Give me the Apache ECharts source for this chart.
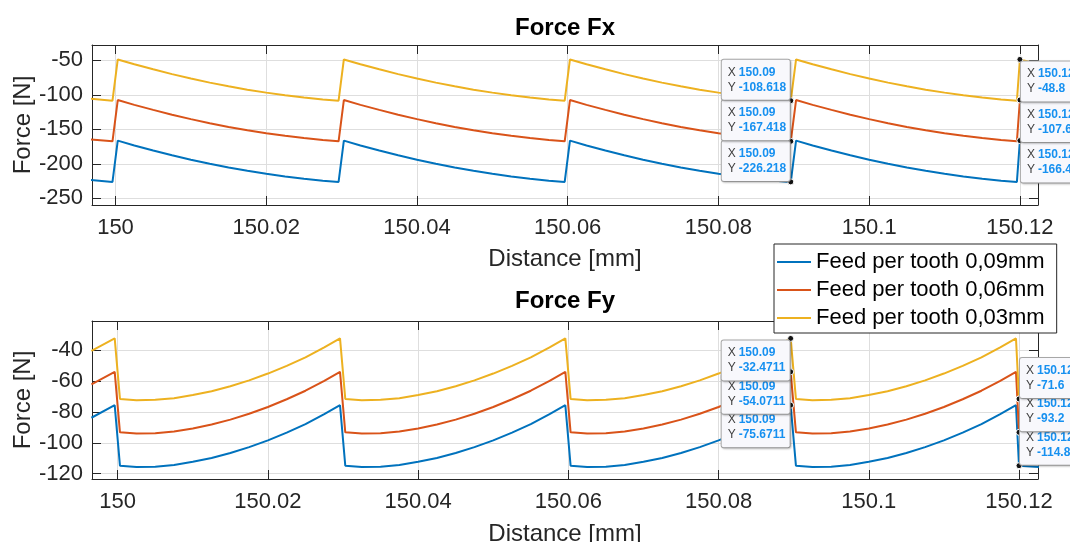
<!DOCTYPE html>
<html>
<head>
<meta charset="utf-8">
<title>Force Fx / Force Fy</title>
<script src="https://cdn.jsdelivr.net/npm/echarts@6/dist/echarts.min.js"></script>
<style>
  html, body { margin: 0; padding: 0; background: #ffffff; }
  #chart { width: 1070px; height: 542px; }
</style>
</head>
<body>
<div id="chart"></div>
<script>
// Distance samples [mm], shared by the Fx and Fy traces
const distance = [
  149.9965,
  149.9996, 150.0003, 150.0025, 150.0050, 150.0075, 150.0100, 150.0125, 150.0150, 150.0175, 150.0200, 150.0225, 150.0250, 150.0275,
  150.0296, 150.0303, 150.0325, 150.0350, 150.0375, 150.0400, 150.0425, 150.0450, 150.0475, 150.0500, 150.0525, 150.0550, 150.0575,
  150.0596, 150.0603, 150.0625, 150.0650, 150.0675, 150.0700, 150.0725, 150.0750, 150.0775, 150.0800, 150.0825, 150.0850, 150.0875,
  150.0896, 150.0903, 150.0925, 150.0950, 150.0975, 150.1000, 150.1025, 150.1050, 150.1075, 150.1100, 150.1125, 150.1150, 150.1175,
  150.1196, 150.1200, 150.1227
];

// Force Fx [N]
const fx009 = [
  -223.2,
  -226.218, -166.4, -173.4, -180.7, -187.7, -194.1, -200.0, -205.4, -210.2, -214.5, -218.3, -221.6, -224.5,
  -226.218, -166.4, -173.4, -180.7, -187.7, -194.1, -200.0, -205.4, -210.2, -214.5, -218.3, -221.6, -224.5,
  -226.218, -166.4, -173.4, -180.7, -187.7, -194.1, -200.0, -205.4, -210.2, -214.5, -218.3, -221.6, -224.5,
  -226.218, -166.4, -173.4, -180.7, -187.7, -194.1, -200.0, -205.4, -210.2, -214.5, -218.3, -221.6, -224.5,
  -226.218, -166.4, -174.0
];
const fx006 = [
  -164.4,
  -167.418, -107.6, -114.6, -121.9, -128.9, -135.3, -141.2, -146.6, -151.4, -155.7, -159.5, -162.8, -165.7,
  -167.418, -107.6, -114.6, -121.9, -128.9, -135.3, -141.2, -146.6, -151.4, -155.7, -159.5, -162.8, -165.7,
  -167.418, -107.6, -114.6, -121.9, -128.9, -135.3, -141.2, -146.6, -151.4, -155.7, -159.5, -162.8, -165.7,
  -167.418, -107.6, -114.6, -121.9, -128.9, -135.3, -141.2, -146.6, -151.4, -155.7, -159.5, -162.8, -165.7,
  -167.418, -107.6, -115.2
];
const fx003 = [
  -105.6,
  -108.618, -48.8, -55.8, -63.1, -70.1, -76.5, -82.4, -87.8, -92.6, -96.9, -100.7, -104.0, -106.9,
  -108.618, -48.8, -55.8, -63.1, -70.1, -76.5, -82.4, -87.8, -92.6, -96.9, -100.7, -104.0, -106.9,
  -108.618, -48.8, -55.8, -63.1, -70.1, -76.5, -82.4, -87.8, -92.6, -96.9, -100.7, -104.0, -106.9,
  -108.618, -48.8, -55.8, -63.1, -70.1, -76.5, -82.4, -87.8, -92.6, -96.9, -100.7, -104.0, -106.9,
  -108.618, -48.8, -56.4
];

// Force Fy [N]
const fy009 = [
  -83.8,
  -75.6711, -114.8, -115.6, -115.4, -114.3, -112.3, -109.8, -106.6, -102.8, -98.4, -93.4, -87.9, -81.5,
  -75.6711, -114.8, -115.6, -115.4, -114.3, -112.3, -109.8, -106.6, -102.8, -98.4, -93.4, -87.9, -81.5,
  -75.6711, -114.8, -115.6, -115.4, -114.3, -112.3, -109.8, -106.6, -102.8, -98.4, -93.4, -87.9, -81.5,
  -75.6711, -114.8, -115.6, -115.4, -114.3, -112.3, -109.8, -106.6, -102.8, -98.4, -93.4, -87.9, -81.5,
  -75.6711, -114.8, -115.6
];
const fy006 = [
  -62.2,
  -54.0711, -93.2, -94.0, -93.8, -92.7, -90.7, -88.2, -85.0, -81.2, -76.8, -71.8, -66.3, -59.9,
  -54.0711, -93.2, -94.0, -93.8, -92.7, -90.7, -88.2, -85.0, -81.2, -76.8, -71.8, -66.3, -59.9,
  -54.0711, -93.2, -94.0, -93.8, -92.7, -90.7, -88.2, -85.0, -81.2, -76.8, -71.8, -66.3, -59.9,
  -54.0711, -93.2, -94.0, -93.8, -92.7, -90.7, -88.2, -85.0, -81.2, -76.8, -71.8, -66.3, -59.9,
  -54.0711, -93.2, -94.0
];
const fy003 = [
  -40.6,
  -32.4711, -71.6, -72.4, -72.2, -71.1, -69.1, -66.6, -63.4, -59.6, -55.2, -50.2, -44.7, -38.3,
  -32.4711, -71.6, -72.4, -72.2, -71.1, -69.1, -66.6, -63.4, -59.6, -55.2, -50.2, -44.7, -38.3,
  -32.4711, -71.6, -72.4, -72.2, -71.1, -69.1, -66.6, -63.4, -59.6, -55.2, -50.2, -44.7, -38.3,
  -32.4711, -71.6, -72.4, -72.2, -71.1, -69.1, -66.6, -63.4, -59.6, -55.2, -50.2, -44.7, -38.3,
  -32.4711, -71.6, -72.4
];

const seriesNames = ['Feed per tooth 0,09mm', 'Feed per tooth 0,06mm', 'Feed per tooth 0,03mm'];
const titles = ['Force Fx', 'Force Fy'];

// Tick values
const distanceTicks = [150, 150.02, 150.04, 150.06, 150.08, 150.1, 150.12];
const fxTicks = [-250, -200, -150, -100, -50];
const fyTicks = [-120, -100, -80, -60, -40];

// Sample indices that carry a data tip
const tipIndices = [40, 54];

const FONT = '"Liberation Sans", Arial, Helvetica, sans-serif';
const INK = '#262626';
const GRID_LINE = '#dedede';
const COLORS = ['#0072BD', '#D95319', '#EDB120'];

const chart = echarts.init(document.getElementById('chart'), null, { renderer: 'canvas' });

const pairs = ys => distance.map((d, i) => [d, ys[i]]);
const fmt6 = v => String(Number(v.toPrecision(6)));
const tickFmt = v => String(Number(Number(v).toFixed(4)));

// Data tip box anchored at the sample with the given corner
function dataTip(ys, idx, align, vAlign, offset) {
  const x = distance[idx], y = ys[idx];
  return {
    coord: [x, y],
    label: {
      show: true,
      position: ['50%', '50%'],
      align: align,
      verticalAlign: vAlign,
      offset: offset,
      formatter: '{l|X}{v|' + fmt6(x) + '}\n{l|Y}{v|' + fmt6(y) + '}',
      backgroundColor: '#f8f8fc',
      borderColor: '#a9a9a9',
      borderWidth: 1,
      borderRadius: 2,
      padding: [5, 4, 5, 6],
      shadowColor: 'rgba(0,0,0,0.18)',
      shadowBlur: 2,
      shadowOffsetX: 1,
      shadowOffsetY: 1,
      rich: {
        l: { fontFamily: FONT, fontSize: 12, color: '#404040', lineHeight: 15, width: 11, align: 'left' },
        v: { fontFamily: FONT, fontSize: 12, color: '#1690f0', fontWeight: 'bold', lineHeight: 15, width: 47, align: 'left' }
      }
    }
  };
}

function lineSeries(name, ys, color, axisIdx, tips) {
  return {
    name: name,
    type: 'line',
    xAxisIndex: axisIdx,
    yAxisIndex: axisIdx,
    data: pairs(ys),
    showSymbol: false,
    symbol: 'none',
    clip: true,
    color: color,
    lineStyle: { width: 2, color: color },
    emphasis: { disabled: true },
    animation: false,
    markPoint: {
      symbol: 'circle',
      symbolSize: 6,
      silent: true,
      animation: false,
      itemStyle: { color: '#141414', borderColor: '#ffffff', borderWidth: 1 },
      data: tips
    }
  };
}

const xRanges = [[149.996882, 150.122401], [149.996578, 150.12253]];
const yRanges = [[-259.7, -27.9], [-123.4, -21.2]];
const yTicks = [fxTicks, fyTicks];
const xNameGaps = [42, 43];

const xAxes = [];
const yAxes = [];
[0, 1].forEach(g => {
  xAxes.push({
    type: 'value', gridIndex: g, position: 'bottom',
    min: xRanges[g][0], max: xRanges[g][1], splitNumber: 6,
    name: 'Distance [mm]', nameLocation: 'middle', nameGap: xNameGaps[g], nameMoveOverlap: false,
    nameTextStyle: { fontFamily: FONT, fontSize: 24, color: INK },
    axisLine: { show: true, onZero: false, lineStyle: { color: INK, width: 1 } },
    axisTick: { show: true, inside: true, length: 9, customValues: distanceTicks, lineStyle: { color: INK } },
    axisLabel: { show: true, margin: 12, customValues: distanceTicks, formatter: tickFmt,
                 fontFamily: FONT, fontSize: 22, color: INK },
    splitLine: { show: true, lineStyle: { color: GRID_LINE, width: 1 } }
  });
  yAxes.push({
    type: 'value', gridIndex: g, position: 'left',
    min: yRanges[g][0], max: yRanges[g][1],
    name: 'Force [N]', nameLocation: 'middle', nameGap: 57, nameMoveOverlap: false,
    nameTextStyle: { fontFamily: FONT, fontSize: 24, color: INK },
    axisLine: { show: true, onZero: false, lineStyle: { color: INK, width: 1 } },
    axisTick: { show: true, inside: true, length: 9, customValues: yTicks[g], lineStyle: { color: INK } },
    axisLabel: { show: true, margin: 9, customValues: yTicks[g], formatter: tickFmt,
                 fontFamily: FONT, fontSize: 22, color: INK },
    splitLine: { show: true, lineStyle: { color: GRID_LINE, width: 1 } }
  });
});
// Mirror axes closing the box on the top and right sides
[0, 1].forEach(g => {
  xAxes.push({
    type: 'value', gridIndex: g, position: 'top',
    min: xRanges[g][0], max: xRanges[g][1], splitNumber: 6,
    axisLine: { show: true, onZero: false, lineStyle: { color: INK, width: 1 } },
    axisTick: { show: true, inside: true, length: 9, customValues: distanceTicks, lineStyle: { color: INK } },
    axisLabel: { show: false },
    splitLine: { show: false }
  });
  yAxes.push({
    type: 'value', gridIndex: g, position: 'right',
    min: yRanges[g][0], max: yRanges[g][1],
    axisLine: { show: true, onZero: false, lineStyle: { color: INK, width: 1 } },
    axisTick: { show: true, inside: true, length: 9, customValues: yTicks[g], lineStyle: { color: INK } },
    axisLabel: { show: false },
    splitLine: { show: false }
  });
});

const fxData = [fx009, fx006, fx003];
const fyData = [fy009, fy006, fy003];
const series = [];
fxData.forEach((ys, k) => {
  series.push(lineSeries(seriesNames[k], ys, COLORS[k], 0, [
    dataTip(ys, tipIndices[0], 'right', 'bottom', [-1, -1]),
    dataTip(ys, tipIndices[1], 'left', 'top', [1, 2])
  ]));
});
fyData.forEach((ys, k) => {
  series.push(lineSeries(seriesNames[k], ys, COLORS[k], 1, [
    dataTip(ys, tipIndices[0], 'right', 'top', [-1, 2]),
    dataTip(ys, tipIndices[1], 'left', 'bottom', [1, -1])
  ]));
});

const option = {
  animation: false,
  backgroundColor: '#ffffff',
  textStyle: { fontFamily: FONT },
  title: [
    { text: titles[0], left: 565, top: 16, textAlign: 'center', padding: 0,
      textStyle: { fontFamily: FONT, fontSize: 24, fontWeight: 'bold', color: '#000000' } },
    { text: titles[1], left: 565, top: 289, textAlign: 'center', padding: 0,
      textStyle: { fontFamily: FONT, fontSize: 24, fontWeight: 'bold', color: '#000000' } }
  ],
  legend: {
    data: seriesNames,
    orient: 'vertical',
    left: 774, top: 244,
    padding: [7, 12, 4, 3],
    itemGap: 6,
    itemWidth: 34,
    itemHeight: 2,
    icon: 'rect',
    backgroundColor: '#ffffff',
    borderColor: INK,
    borderWidth: 1,
    selectedMode: false,
    textStyle: { fontFamily: FONT, fontSize: 22, color: '#000000' },
    z: 10
  },
  grid: [
    { left: 92, top: 45, width: 946, height: 160, outerBoundsMode: 'none', containLabel: false },
    { left: 92, top: 321, width: 946, height: 158, outerBoundsMode: 'none', containLabel: false }
  ],
  xAxis: xAxes,
  yAxis: yAxes,
  series: series
};

chart.setOption(option);
</script>
</body>
</html>
